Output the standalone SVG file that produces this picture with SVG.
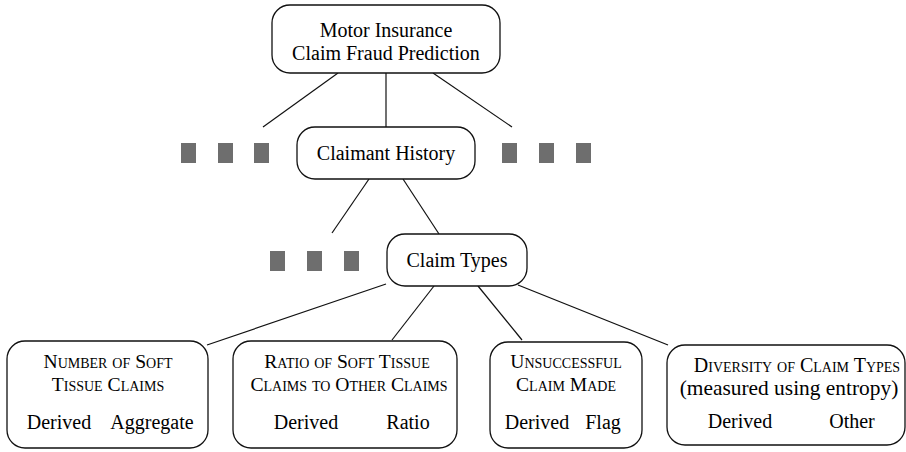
<svg xmlns="http://www.w3.org/2000/svg" width="906" height="452" viewBox="0 0 906 452">
  <style>
    .box { fill: #ffffff; stroke: #111111; stroke-width: 1.3; }
    .edge { stroke: #111111; stroke-width: 1.2; fill: none; }
    .more { fill: #6e6e6e; }
    text { fill: #000000; text-anchor: middle; }
    .lbl { font-size: 20px; }
    .sc { font-size: 19.6px; font-variant: small-caps; }
    .tag { font-size: 20px; }
  </style>
  <rect width="906" height="452" fill="#ffffff"/>

  <!-- connectors -->
  <g id="edges">
    <line class="edge" x1="338" y1="73" x2="263" y2="127"/>
    <line class="edge" x1="386" y1="73" x2="386" y2="127"/>
    <line class="edge" x1="433" y1="73" x2="512" y2="127"/>
    <line class="edge" x1="369" y1="179" x2="332" y2="233"/>
    <line class="edge" x1="403" y1="179" x2="439" y2="234"/>
    <line class="edge" x1="386" y1="284" x2="207" y2="345"/>
    <line class="edge" x1="434" y1="286" x2="392" y2="340"/>
    <line class="edge" x1="478" y1="286" x2="522" y2="340"/>
    <line class="edge" x1="518" y1="285" x2="668" y2="345"/>
  </g>

  <!-- elided siblings -->
  <g id="elided">
    <rect class="more" x="181" y="143" width="15" height="20"/>
    <rect class="more" x="218" y="143" width="15" height="20"/>
    <rect class="more" x="254" y="143" width="15" height="20"/>
    <rect class="more" x="502" y="143" width="15" height="20"/>
    <rect class="more" x="539" y="143" width="15" height="20"/>
    <rect class="more" x="576" y="143" width="15" height="20"/>
    <rect class="more" x="270" y="251" width="15" height="20"/>
    <rect class="more" x="307" y="251" width="15" height="20"/>
    <rect class="more" x="344" y="251" width="15" height="20"/>
  </g>

  <g font-family="'Liberation Serif', 'DejaVu Serif', serif">
  <g id="root">
    <rect class="box" x="272" y="5" width="228" height="68" rx="18"/>
    <text class="lbl" x="386" y="37">Motor Insurance</text>
    <text class="lbl" x="386" y="60">Claim Fraud Prediction</text>
  </g>

  <g id="claimant-history">
    <rect class="box" x="297" y="127" width="178" height="52" rx="18"/>
    <text class="lbl" x="386" y="160">Claimant History</text>
  </g>

  <g id="claim-types">
    <rect class="box" x="387" y="234" width="140" height="52" rx="18"/>
    <text class="lbl" x="457" y="267">Claim Types</text>
  </g>

  <g id="num-soft-tissue">
    <rect class="box" x="7" y="341" width="201" height="107" rx="18"/>
    <text class="sc" x="108" y="368">Number of Soft</text>
    <text class="sc" x="108" y="391">Tissue Claims</text>
    <text class="tag" x="59" y="429">Derived</text>
    <text class="tag" x="152" y="429">Aggregate</text>
  </g>

  <g id="ratio-soft-tissue">
    <rect class="box" x="233" y="341" width="224" height="107" rx="18"/>
    <text class="sc" x="347" y="368">Ratio of Soft Tissue</text>
    <text class="sc" x="349" y="391">Claims to Other Claims</text>
    <text class="tag" x="306" y="429">Derived</text>
    <text class="tag" x="408" y="429">Ratio</text>
  </g>

  <g id="unsuccessful-claim">
    <rect class="box" x="490" y="342" width="152" height="106" rx="18"/>
    <text class="sc" x="566" y="368">Unsuccessful</text>
    <text class="sc" x="566" y="391">Claim Made</text>
    <text class="tag" x="537" y="429">Derived</text>
    <text class="tag" x="603" y="429">Flag</text>
  </g>

  <g id="claim-type-diversity">
    <rect class="box" x="667" y="345" width="238" height="100" rx="18"/>
    <text class="sc" x="797" y="372" style="font-size:20px">Diversity of Claim Types</text>
    <text class="lbl" x="789" y="395" style="font-size:21.4px">(measured using entropy)</text>
    <text class="tag" x="740" y="428">Derived</text>
    <text class="tag" x="852" y="428">Other</text>
  </g>
  </g>
</svg>
